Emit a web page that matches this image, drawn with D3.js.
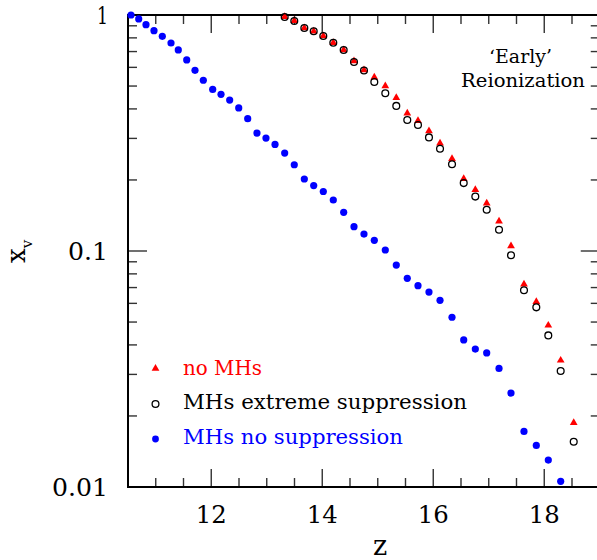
<!DOCTYPE html>
<html>
<head>
<meta charset="utf-8">
<script src="https://cdn.jsdelivr.net/npm/d3@7"></script>
<style>
  body { margin: 0; background: #fff; }
</style>
</head>
<body>
<div id="chart"></div>
<script>
// shared redshift grid for the three runs
var zGrid = [10.554, 10.693, 10.824, 10.968, 11.118, 11.275, 11.406, 11.558, 11.707, 11.857,
  12.026, 12.176, 12.332, 12.495, 12.657, 12.824, 12.986, 13.149, 13.323, 13.496,
  13.677, 13.846, 14.019, 14.199, 14.386, 14.572, 14.752, 14.938, 15.136, 15.334,
  15.532, 15.725, 15.923, 16.122, 16.338, 16.549, 16.758, 16.963, 17.185, 17.401,
  17.635, 17.857, 18.073, 18.296, 18.531];

// MHs no suppression (blue)
var xvNoSupp = [1.0, 0.962, 0.910, 0.858, 0.812, 0.761, 0.711, 0.645, 0.583, 0.529,
  0.484, 0.461, 0.436, 0.404, 0.3636, 0.316, 0.301, 0.283, 0.260, 0.232,
  0.2019, 0.1894, 0.1787, 0.1645, 0.1459, 0.1268, 0.118, 0.111, 0.1010, 0.0872,
  0.0766, 0.0713, 0.0670, 0.0618, 0.0524, 0.0420, 0.0384, 0.0370, 0.0318, 0.0250,
  0.0172, 0.0150, 0.0130, 0.01057];

// no MHs (red triangles), starting at zGrid[18]
var xvNoMH = [0.983, 0.946, 0.881, 0.853, 0.815, 0.763, 0.711, 0.638, 0.585, 0.545,
  0.500, 0.446, 0.3833, 0.3565, 0.3225, 0.286, 0.246, 0.2025, 0.1818, 0.1593,
  0.1336, 0.1050, 0.0723, 0.0610, 0.0484, 0.0344, 0.0187];

// MHs extreme suppression (open circles), starting at zGrid[18]
var xvExtreme = [0.981, 0.943, 0.881, 0.853, 0.815, 0.763, 0.711, 0.632, 0.582, 0.520,
  0.466, 0.412, 0.359, 0.342, 0.303, 0.271, 0.233, 0.194, 0.170, 0.1496,
  0.1231, 0.0959, 0.0682, 0.0577, 0.0439, 0.0310, 0.01556];

var xTicks = [12, 14, 16, 18];
var yTicks = [1, 0.1, 0.01];
var yTickLabels = ["1", "0.1", "0.01"];
var legendNames = ["no MHs", "MHs extreme suppression", "MHs no suppression"];

var FONT = "'DejaVu Serif', 'Liberation Serif', serif";
var width = 597, height = 560;
var margin = {top: 15, left: 128, bottom: 73};

var svg = d3.select("#chart").append("svg")
    .attr("width", width)
    .attr("height", height)
    .attr("font-family", FONT);

var x = d3.scaleLinear().domain([10.5, 19]).range([margin.left, 599.75]);
var y = d3.scaleLog().domain([0.01, 1]).range([height - margin.bottom, margin.top]);

var x0 = x.range()[0], x1 = x.range()[1];
var y0 = y.range()[0], y1 = y.range()[1];

// minor ticks
var xMinor = d3.range(11, 19.01, 0.5).filter(function (d) { return xTicks.indexOf(d) < 0; });
var yMinor = [];
[0.01, 0.1].forEach(function (dec) {
  for (var k = 2; k <= 9; k++) yMinor.push(dec * k);
});

var tickG = svg.append("g").attr("stroke", "#333").attr("stroke-width", 1.4);

function xTick(v, len) {
  tickG.append("line").attr("x1", x(v)).attr("x2", x(v)).attr("y1", y0).attr("y2", y0 - len);
  tickG.append("line").attr("x1", x(v)).attr("x2", x(v)).attr("y1", y1).attr("y2", y1 + len);
}
function yTick(v, len) {
  tickG.append("line").attr("x1", x0).attr("x2", x0 + len).attr("y1", y(v)).attr("y2", y(v));
  tickG.append("line").attr("x1", x1).attr("x2", x1 - len).attr("y1", y(v)).attr("y2", y(v));
}
xMinor.forEach(function (d) { xTick(d, 9); });
xTicks.forEach(function (d) { xTick(d, 18); });
yMinor.forEach(function (d) { yTick(d, 9); });
yTicks.forEach(function (d) { yTick(d, 19); });

// frame
svg.append("rect")
    .attr("x", x0).attr("y", y1)
    .attr("width", x1 - x0).attr("height", y0 - y1)
    .attr("fill", "none").attr("stroke", "#000").attr("stroke-width", 2);

// tick labels
svg.selectAll("text.xl").data(xTicks).enter().append("text")
    .attr("class", "xl")
    .attr("x", function (d) { return x(d) - 15.5; })
    .attr("y", 523)
    .attr("font-size", 24)
    .attr("font-weight", 300)
    .attr("textLength", 31)
    .attr("lengthAdjust", "spacingAndGlyphs")
    .text(function (d) { return d; });

var yLabW = [11, 40, 56];
svg.selectAll("text.yl").data(yTicks).enter().append("text")
    .attr("class", "yl")
    .attr("x", function (d, i) { return 108 - yLabW[i]; })
    .attr("y", function (d) { return y(d) + 9; })
    .attr("font-size", 25)
    .attr("textLength", function (d, i) { return yLabW[i]; })
    .attr("lengthAdjust", "spacingAndGlyphs")
    .text(function (d, i) { return yTickLabels[i]; });

// axis titles
svg.append("text")
    .attr("x", 380).attr("y", 555)
    .attr("text-anchor", "middle")
    .attr("font-size", 27)
    .text("z");

var yl = svg.append("text")
    .attr("transform", "translate(25,263) rotate(-90)")
    .attr("font-size", 26);
yl.append("tspan").text("x");
yl.append("tspan").attr("dy", 7).attr("font-size", 15).text("v");

// annotation
svg.append("text").attr("x", 489).attr("y", 63)
    .attr("font-size", 18).attr("textLength", 63).attr("lengthAdjust", "spacingAndGlyphs")
    .text("\u2018Early\u2019");
svg.append("text").attr("x", 461).attr("y", 87)
    .attr("font-size", 18).attr("textLength", 124).attr("lengthAdjust", "spacingAndGlyphs")
    .text("Reionization");

// markers
var triSym = d3.symbol().type(d3.symbolTriangle).size(26);

var redData = xvNoMH.map(function (v, i) { return [zGrid[i + 18], v]; });
var extData = xvExtreme.map(function (v, i) { return [zGrid[i + 18], v]; });
var blueData = xvNoSupp.map(function (v, i) { return [zGrid[i], v]; });

svg.append("g").selectAll("path").data(redData).enter().append("path")
    .attr("d", triSym)
    .attr("transform", function (d) { return "translate(" + x(d[0]) + "," + y(d[1]) + ")"; })
    .attr("fill", "#ff0000");

svg.append("g").selectAll("circle").data(extData).enter().append("circle")
    .attr("cx", function (d) { return x(d[0]); })
    .attr("cy", function (d) { return y(d[1]); })
    .attr("r", 3.4)
    .attr("fill", "none")
    .attr("stroke", "#000")
    .attr("stroke-width", 1.3);

svg.append("g").selectAll("circle").data(blueData).enter().append("circle")
    .attr("cx", function (d) { return x(d[0]); })
    .attr("cy", function (d) { return y(d[1]); })
    .attr("r", 3.6)
    .attr("fill", "#0000ff");

// legend
var legColors = ["#ff0000", "#000000", "#0000ff"];
var legY = [368.5, 404, 439];
var legBase = [375, 409, 444];
var legLen = [79, 284, 220];
var leg = svg.append("g");
leg.append("path").attr("d", triSym).attr("transform", "translate(155.5," + legY[0] + ")").attr("fill", legColors[0]);
leg.append("circle").attr("cx", 155.5).attr("cy", legY[1]).attr("r", 3.4)
    .attr("fill", "none").attr("stroke", "#000").attr("stroke-width", 1.3);
leg.append("circle").attr("cx", 155.5).attr("cy", legY[2]).attr("r", 3.4).attr("fill", legColors[2]);
legendNames.forEach(function (name, i) {
  leg.append("text")
      .attr("x", 183).attr("y", legBase[i])
      .attr("font-size", 20)
      .attr("fill", legColors[i])
      .attr("textLength", legLen[i])
      .attr("lengthAdjust", "spacingAndGlyphs")
      .text(name);
});
</script>
</body>
</html>
